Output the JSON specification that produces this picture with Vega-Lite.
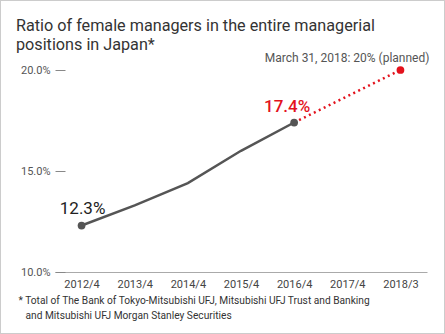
{
  "$schema": "https://vega.github.io/schema/vega-lite/v6.json",
  "width": 445,
  "height": 334,
  "autosize": "none",
  "padding": 0,
  "background": "white",
  "config": {
    "view": {"stroke": "#cccccc", "strokeWidth": 2},
    "font": "Roboto"
  },
  "title": {
    "text": ["Ratio of female managers in the entire managerial", "positions in Japan*"],
    "anchor": "start",
    "frame": "group",
    "dx": 16,
    "dy": 53,
    "offset": 0,
    "baseline": "top",
    "fontSize": 16.2,
    "fontWeight": "normal",
    "font": "Roboto",
    "color": "#333333",
    "lineHeight": 19
  },
  "datasets": {
    "actual": [
      {"period": "2012/4", "value": 12.3},
      {"period": "2013/4", "value": 13.3},
      {"period": "2014/4", "value": 14.4},
      {"period": "2015/4", "value": 16.0},
      {"period": "2016/4", "value": 17.4}
    ],
    "plan": [
      {"period": "2016/4", "value": 17.4},
      {"period": "2018/3", "value": 20.0}
    ],
    "labels": [
      {"period": "2012/4", "value": 12.3, "label": "12.3%", "kind": "start"},
      {"period": "2016/4", "value": 17.4, "label": "17.4%", "kind": "latest"},
      {"period": "2018/3", "value": 20.0, "label": "March 31, 2018: 20% (planned)", "kind": "plan"}
    ]
  },
  "encoding": {
    "x": {
      "field": "period",
      "type": "ordinal",
      "scale": {
        "type": "point",
        "domain": ["2012/4", "2013/4", "2014/4", "2015/4", "2016/4", "2017/4", "2018/3"],
        "range": [55, 427],
        "padding": 0.5
      },
      "axis": {
        "orient": "bottom",
        "offset": -62,
        "labelAngle": 0,
        "ticks": false,
        "labelPadding": 6,
        "labelFontSize": 11,
        "labelColor": "#444444",
        "domainColor": "#aaaaaa",
        "domainWidth": 1,
        "title": "* Total of The Bank of Tokyo-Mitsubishi UFJ, Mitsubishi UFJ Trust and Banking",
        "titleAnchor": "start",
        "titleAlign": "left",
        "titleBaseline": "alphabetic",
        "titleX": 18,
        "titleY": 31,
        "titleFontSize": 10.2,
        "titleFontWeight": "normal",
        "titleColor": "#333333"
      }
    },
    "y": {
      "field": "value",
      "type": "quantitative",
      "scale": {"domain": [10, 20], "range": [272, 70], "zero": false, "nice": false},
      "axis": {
        "orient": "left",
        "offset": -65,
        "values": [10, 15, 20],
        "labelExpr": "format(datum.value, '.1f') + '%'",
        "tickSize": 10,
        "tickColor": "#888888",
        "domain": false,
        "grid": false,
        "labelPadding": 5,
        "labelFontSize": 11,
        "labelColor": "#555555",
        "title": "and Mitsubishi UFJ Morgan Stanley Securities",
        "titleAngle": 0,
        "titleAnchor": "start",
        "titleAlign": "left",
        "titleBaseline": "alphabetic",
        "titleX": -40,
        "titleY": 318,
        "titleFontSize": 10.2,
        "titleFontWeight": "normal",
        "titleColor": "#333333"
      }
    }
  },
  "layer": [
    {
      "data": {"name": "actual"},
      "mark": {"type": "line", "color": "#555555", "strokeWidth": 2.5}
    },
    {
      "data": {"name": "plan"},
      "mark": {"type": "line", "color": "#e3121c", "strokeWidth": 2.5, "strokeDash": [2, 3.5]}
    },
    {
      "data": {"name": "labels"},
      "mark": {"type": "point", "filled": true, "opacity": 1, "size": 60},
      "encoding": {
        "color": {
          "field": "kind",
          "type": "nominal",
          "scale": {"domain": ["start", "latest", "plan"], "range": ["#555555", "#555555", "#e3121c"]},
          "legend": null
        }
      }
    },
    {
      "data": {"name": "labels"},
      "transform": [{"filter": "datum.kind == 'start'"}],
      "mark": {"type": "text", "align": "center", "baseline": "alphabetic", "dx": 1, "dy": -12, "fontSize": 17, "color": "#222222"},
      "encoding": {"text": {"field": "label"}}
    },
    {
      "data": {"name": "labels"},
      "transform": [{"filter": "datum.kind == 'latest'"}],
      "mark": {"type": "text", "align": "center", "baseline": "alphabetic", "dx": -7, "dy": -11, "fontSize": 17, "fontWeight": 500, "color": "#e3121c"},
      "encoding": {"text": {"field": "label"}}
    },
    {
      "data": {"name": "labels"},
      "transform": [{"filter": "datum.kind == 'plan'"}],
      "mark": {"type": "text", "align": "right", "baseline": "alphabetic", "dx": 29, "dy": -8, "fontSize": 12, "color": "#555555"},
      "encoding": {"text": {"field": "label"}}
    }
  ]
}
